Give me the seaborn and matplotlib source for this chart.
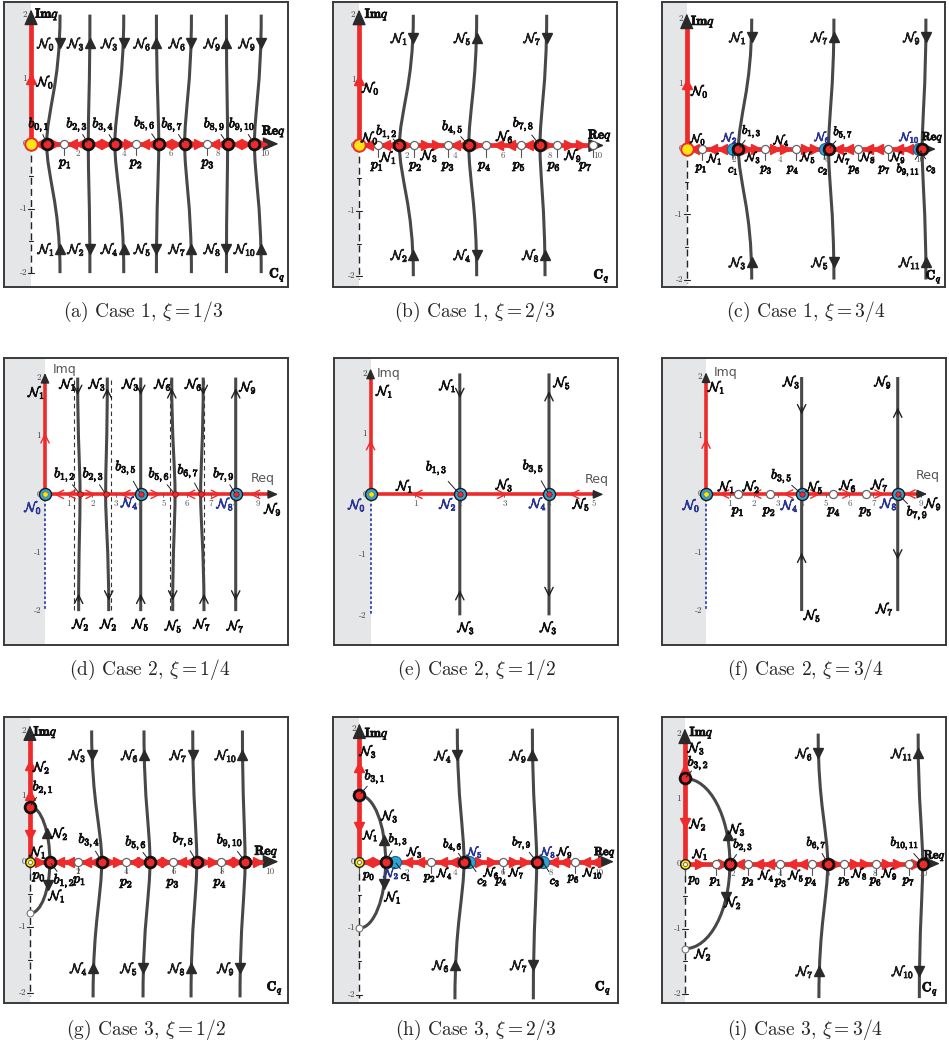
import seaborn as sns
import matplotlib.pyplot as plt
import matplotlib.patheffects as pe
from matplotlib.path import Path
from matplotlib.patches import PathPatch

# ---------------- data ----------------
# (a) Case 1, xi = 1/3
A_B = [0.67, 2.45, 3.59, 5.47, 6.58, 8.42, 9.57]
A_P = [1.42, 4.49, 7.53]
A_C = []
A_TOP = [1.24, 2.52, 3.97, 5.37, 6.87, 8.37, 9.86]
A_BOT = [1.24, 2.52, 3.97, 5.37, 6.87, 8.37, 9.86]
A_IN = [1, 0, 1, 0, 1, 0, 1]
A_NTOP = ['0', '3', '3', '6', '6', '9', '9']
A_NBOT = ['1', '2', '4', '5', '7', '8', '10']
A_FLOW = "< > << <> >> << <> >> << <> >"
A_IMF = [(1.0, '^')]

# (b) Case 1, xi = 2/3
B_B = [1.69, 4.59, 7.57]
B_P = [0.77, 2.31, 3.74, 5.31, 6.79, 8.27, 9.78]
B_C = []
B_TOP = [2.27, 4.92, 7.85]
B_BOT = [2.27, 4.92, 7.78]
B_IN = [1, 0, 1]
B_NTOP = ['1', '5', '7']
B_NBOT = ['2', '4', '8']
B_FLOW = "< << > >> << > << << > >> -"
B_IMF = [(1.0, '^')]

# (c) Case 1, xi = 3/4
C_B = [2.22, 6.09, 10.11]
C_P = [0.64, 3.36, 4.68, 7.34, 8.63]
C_C = [1.97, 5.94, 9.96]
C_TOP = [2.79, 6.32, 10.27]
C_BOT = [2.79, 6.32, 10.27]
C_IN = [1, 0, 1]
C_NTOP = ['1', '7', '9']
C_NBOT = ['3', '5', '11']
C_FLOW = "< << - >> >> >> - << << << - -"
C_IMF = [(1.0, '^')]

# (d) Case 2, xi = 1/4
D_B = [4.04, 8.05]
D_BS = [1.48, 2.56, 5.49, 6.57]
D_P = []
D_C = []
D_TOP = [1.38, 2.63, 4.04, 5.35, 6.68, 8.05]
D_MID = [1.48, 2.56, 4.04, 5.49, 6.57, 8.05]
D_BOT = [1.42, 2.69, 4.04, 5.39, 6.71, 8.05]
D_IN = [1, 0, 1, 0, 1, 0]
D_ASYM = [1.22, 2.78, 5.28, 6.70]
D_FLOW = "<< > < > < > <"
D_IMF = [(1.0, '^')]

# (e) Case 2, xi = 1/2
E_B = [2.0, 4.0]
E_BS = []
E_P = []
E_C = []
E_TOP = [2.0, 4.0]
E_BOT = [2.0, 4.0]
E_IN = [1, 0]
E_FLOW = "< > <"
E_IMF = [(0.85, '^')]

# (f) Case 2, xi = 3/4
F_B = [4.0, 8.02]
F_BS = []
F_P = [1.33, 2.68, 5.33, 6.68]
F_C = []
F_TOP = [4.0, 8.02]
F_BOT = [4.0, 8.02]
F_IN = [1, 0]
F_FLOW = "< < < > > > <"
F_IMF = [(0.9, '^')]

# (g) Case 3, xi = 1/2
G_B = [0.83, 2.99, 5.0, 6.95, 8.96]
G_P = [2.01, 4.0, 5.97, 7.96]
G_C = []
G_TOP = [2.57, 4.75, 6.78, 8.85]
G_MID = [2.99, 5.0, 6.95, 8.96]
G_BOT = [2.63, 4.71, 6.71, 8.75]
G_IN = [1, 0, 1, 0]
G_NTOP = ['3', '6', '7', '10']
G_NBOT = ['4', '5', '8', '9']
G_ARC = (0.84, 0.83, -0.79)
G_ARCARR = [(0.71, 0.43, '^'), (0.75, -0.36, 'v')]
G_FLOW = "> << << >> <> <> << >> <> >"
G_IMF = [(1.47, '^'), (1.02, '^'), (0.41, 'v')]

# (h) Case 3, xi = 2/3
H_B = [1.1, 4.38, 7.42]
H_P = [2.99, 6.0, 9.02]
H_C = [1.49, 4.6, 7.67]
H_TOP = [4.1, 7.24]
H_MID = [4.38, 7.42]
H_BOT = [4.0, 7.28]
H_IN = [1, 0]
H_NTOP = ['4', '9']
H_NBOT = ['6', '7']
H_ARC = (1.0, 1.1, -1.0)
H_ARCARR = [(1.04, 0.33, '^'), (1.04, -0.33, 'v')]
H_FLOW = "<> - << << - >> >> - << <<"
H_IMF = [(1.43, '^'), (0.52, 'v')]

# (i) Case 3, xi = 3/4
I_B = [1.89, 6.0, 9.99]
I_P = [1.3, 2.63, 3.99, 5.36, 6.69, 8.03, 9.42]
I_C = []
I_TOP = [5.6, 9.8]
I_MID = [6.0, 9.99]
I_BOT = [5.63, 9.85]
I_IN = [1, 0]
I_NTOP = ['6', '11']
I_NBOT = ['7', '10']
I_ARC = (1.31, 1.89, -1.31)
I_ARCARR = [(1.8, 0.44, '^'), (1.72, -0.51, 'v')]
I_FLOW = "> > < << << < > >> >> > -"
I_IMF = [(1.46, '^'), (0.62, 'v')]


# ---------------- text labels ----------------
def N(i):
    return r'$\mathcal{N}_{%s}$' % i


def bl(s):
    return r'$b_{%s}$' % s


def pl(s):
    return r'$p_{%s}$' % s


def cl(s):
    return r'$c_{%s}$' % s


IMQ = r'$\mathbf{Im}q$'
REQ = r'$\mathbf{Re}q$'
CQ = r'$\mathbf{C}_q$'


def L(tex, x, y, col='k', tgt=None):
    return (tex, x, y, col, tgt)


A_LAB = [L(N(0), 0.62, 0.97), L(bl('0,1'), 0.34, 0.29, tgt=(0.67, 0)),
         L(bl('2,3'), 1.97, 0.29, tgt=(2.45, 0)), L(bl('3,4'), 3.09, 0.29, tgt=(3.59, 0)),
         L(bl('5,6'), 4.87, 0.31, tgt=(5.47, 0)), L(bl('6,7'), 6.05, 0.29, tgt=(6.58, 0)),
         L(bl('8,9'), 7.86, 0.29, tgt=(8.42, 0)), L(bl('9,10'), 9.04, 0.29, tgt=(9.57, 0)),
         L(pl(1), 1.48, -0.31), L(pl(2), 4.52, -0.31), L(pl(3), 7.59, -0.31),
         L(IMQ, 0.69, 2.0), L(REQ, 10.4, 0.19), L(CQ, 10.55, -2.03)]

B_LAB = [L(N(0), 0.5, 0.89), L(N(0), 0.46, 0.13), L(bl('1,2'), 1.16, 0.2, tgt=(1.69, 0)),
         L(N(1), 1.23, -0.17), L(N(3), 2.95, -0.14), L(bl('4,5'), 3.92, 0.27, tgt=(4.59, 0)),
         L(N(6), 6.11, 0.15), L(bl('7,8'), 6.88, 0.32, tgt=(7.57, 0)), L(N(9), 8.97, -0.14),
         L(pl(1), 0.77, -0.32), L(pl(2), 2.38, -0.32), L(pl(3), 3.74, -0.32), L(pl(4), 5.27, -0.32),
         L(pl(5), 6.71, -0.32), L(pl(6), 8.17, -0.32), L(pl(7), 9.5, -0.32),
         L(IMQ, 0.74, 2.0), L(REQ, 10.08, 0.15), L(CQ, 10.15, -2.0)]

C_LAB = [L(N(0), 0.57, 0.9), L(N(0), 0.5, 0.16), L(N(2), 1.86, 0.18, 'b'),
         L(bl('1,3'), 2.79, 0.27, tgt=(2.22, 0)), L(N(1), 1.21, -0.14), L(cl(1), 2.0, -0.32, tgt=(1.97, 0)),
         L(N(3), 2.86, -0.12), L(pl(1), 0.64, -0.3), L(pl(3), 3.43, -0.32), L(N(4), 4.08, 0.14),
         L(pl(4), 4.58, -0.32), L(N(5), 5.22, -0.12), L(N(6), 5.84, 0.19, 'b'),
         L(bl('5,7'), 6.72, 0.25, tgt=(6.09, 0)), L(cl(2), 5.86, -0.32, tgt=(5.94, 0)),
         L(N(7), 6.72, -0.14), L(pl(6), 7.22, -0.32), L(N(8), 7.79, -0.12), L(pl(7), 8.51, -0.32),
         L(N(9), 9.08, -0.12), L(bl('9,11'), 9.51, -0.32, tgt=(10.11, 0)), L(N(10), 9.58, 0.19, 'b'),
         L(REQ, 10.56, 0.19), L(cl(3), 10.51, -0.3, tgt=(10.0, 0)), L(CQ, 10.61, -1.96),
         L(IMQ, 0.7, 1.95)]

D_LAB = [L(N(1), -0.35, 1.76), L(N(0), -0.49, -0.21, 'b'),
         L(N(1), 0.98, 1.9), L(N(3), 2.22, 1.9), L(N(3), 3.63, 1.9), L(N(6), 4.99, 1.9),
         L(N(6), 6.29, 1.9), L(N(9), 8.58, 1.85),
         L(N(2), 1.52, -2.21), L(N(2), 2.7, -2.21), L(N(5), 4.05, -2.21), L(N(5), 5.44, -2.24),
         L(N(7), 6.65, -2.21), L(N(7), 8.06, -2.24),
         L(bl('1,2'), 0.84, 0.33, tgt=(1.48, 0)), L(bl('2,3'), 2.04, 0.33, tgt=(2.56, 0)),
         L(bl('3,5'), 3.42, 0.45, tgt=(4.04, 0)), L(bl('5,6'), 4.82, 0.33, tgt=(5.49, 0)),
         L(bl('6,7'), 6.05, 0.39, tgt=(6.57, 0)), L(bl('7,9'), 7.55, 0.33, tgt=(8.05, 0)),
         L(N(4), 3.59, -0.13, 'b'), L(N(8), 7.62, -0.15, 'b'), L(N(9), 9.63, -0.24),
         L('Imq', 0.84, 2.14, 'g'), L('Req', 9.21, 0.27, 'g')]

E_LAB = [L(N(1), 0.32, 1.72), L(N(0), -0.3, -0.16, 'b'),
         L(N(1), 1.74, 1.81), L(N(5), 4.3, 1.86), L(N(3), 2.15, -2.19), L(N(3), 4.0, -2.19),
         L(bl('1,3'), 1.48, 0.43, tgt=(2.0, 0)), L(bl('3,5'), 3.65, 0.45, tgt=(4.0, 0)),
         L(N(1), 0.77, 0.15), L(N(2), 1.74, -0.15, 'b'), L(N(3), 3.01, 0.17),
         L(N(4), 3.76, -0.14, 'b'), L(N(5), 4.73, -0.15),
         L('Imq', 0.41, 2.0, 'g'), L('Req', 5.07, 0.24, 'g')]

F_LAB = [L(N(1), 0.45, 1.84), L(N(0), -0.6, -0.18, 'b'),
         L(N(3), 3.59, 1.93), L(N(9), 7.42, 1.93), L(N(5), 4.46, -2.06), L(N(7), 7.49, -1.95),
         L(N(1), 0.87, 0.14), L(N(2), 1.91, 0.14), L(bl('3,5'), 3.17, 0.3, tgt=(4.0, 0)),
         L(N(4), 3.51, -0.18, 'b'), L(N(5), 4.56, 0.13), L(N(6), 5.95, 0.16), L(N(7), 7.28, 0.17),
         L(N(8), 7.66, -0.15, 'b'), L(bl('7,9'), 8.84, -0.33, tgt=(8.02, 0)), L(N(9), 9.51, -0.15),
         L(pl(1), 1.35, -0.3), L(pl(2), 2.66, -0.3), L(pl(4), 5.37, -0.3), L(pl(5), 6.7, -0.3),
         L('Imq', 0.8, 2.07, 'g'), L('Req', 9.28, 0.31, 'g')]

G_LAB = [L(IMQ, 0.65, 1.97), L(N(2), 0.49, 1.45), L(bl('2,1'), 0.55, 1.12, tgt=(0, 0.84)),
         L(N(1), 0.35, 0.16), L(N(2), 1.25, 0.44), L(N(1), 1.14, -0.51),
         L(pl(0), 0.39, -0.23), L(bl('1,2'), 1.43, -0.3, tgt=(0.83, 0)), L(pl(1), 2.08, -0.29),
         L(bl('3,4'), 2.47, 0.32, tgt=(2.99, 0)), L(bl('5,6'), 4.42, 0.28, tgt=(5.0, 0)),
         L(bl('7,8'), 6.39, 0.33, tgt=(6.95, 0)), L(bl('9,10'), 8.33, 0.31, tgt=(8.96, 0)),
         L(pl(2), 4.03, -0.33), L(pl(3), 5.97, -0.33), L(pl(4), 7.93, -0.33),
         L(REQ, 9.85, 0.15), L(CQ, 10.2, -1.93)]

H_LAB = [L(IMQ, 0.73, 1.92), L(N(3), 0.38, 1.67), L(bl('3,1'), 0.66, 1.27, tgt=(0, 1.0)),
         L(N(3), 1.28, 0.7), L(N(1), 0.48, 0.4), L(bl('1,3'), 1.63, 0.33, tgt=(1.1, 0)),
         L(N(3), 2.33, 0.15), L(N(2), 1.35, -0.17, 'b'), L(cl(1), 1.95, -0.22, tgt=(1.49, 0)),
         L(N(1), 1.42, -0.52), L(pl(0), 0.42, -0.22), L(pl(2), 2.96, -0.25), L(N(4), 3.58, -0.17),
         L(bl('4,6'), 3.91, 0.25, tgt=(4.38, 0)), L(N(5), 4.84, 0.15, 'b'), L(N(6), 5.54, -0.16),
         L(cl(2), 5.16, -0.3, tgt=(4.6, 0)), L(pl(4), 5.96, -0.3), L(N(7), 6.59, -0.16),
         L(bl('7,9'), 6.8, 0.28, tgt=(7.42, 0)), L(N(8), 7.91, 0.15, 'b'),
         L(cl(3), 8.19, -0.3, tgt=(7.67, 0)), L(N(9), 8.61, 0.15), L(pl(6), 8.98, -0.26),
         L(N(10), 9.78, -0.16), L(REQ, 10.28, 0.15), L(CQ, 10.2, -1.9)]

I_LAB = [L(IMQ, 0.7, 2.01), L(N(3), 0.49, 1.79), L(bl('3,2'), 0.56, 1.54, tgt=(0, 1.31)),
         L(N(2), 0.56, 0.62), L(N(3), 2.2, 0.54), L(bl('2,3'), 2.45, 0.28, tgt=(1.89, 0)),
         L(N(1), 0.66, 0.15), L(pl(0), 0.42, -0.26), L(pl(1), 1.31, -0.28), L(pl(2), 2.68, -0.28),
         L(N(4), 3.43, -0.18), L(pl(3), 4.05, -0.3), L(N(5), 4.69, -0.18), L(pl(4), 5.32, -0.28),
         L(bl('6,7'), 5.53, 0.31, tgt=(6.0, 0)), L(pl(5), 6.72, -0.28), L(N(8), 7.35, -0.15),
         L(pl(6), 8.03, -0.28), L(N(9), 8.61, -0.15), L(pl(7), 9.42, -0.28),
         L(bl('10,11'), 9.24, 0.31, tgt=(9.99, 0)), L(REQ, 10.5, 0.13), L(CQ, 10.3, -1.93),
         L(N(2), 0.77, -1.38), L(N(2), 2.03, -0.59)]

# ---------------- panel layout ----------------
W, H = 949, 1045
PANELS = [
    dict(row=1, box=(4, 1.7, 288.3, 286.7), xlim=(-1.16, 11.02), ylim=(-2.21, 2.20), xend=10.6,
         B=A_B, P=A_P, C=A_C, TOP=A_TOP, MID=A_B, BOT=A_BOT, IN=A_IN, NT=A_NTOP, NB=A_NBOT,
         FLOW=A_FLOW, IMF=A_IMF, LAB=A_LAB, yarr=(1.56, -1.62), ticks=[2, 4, 6, 8, 10], fs=1.0,
         cap=(r'(a) Case 1, $\xi = 1/3$', 143, 312)),
    dict(row=1, box=(333.3, 1.7, 616.7, 287.3), xlim=(-1.08, 10.78), ylim=(-2.17, 2.20), xend=10.25,
         B=B_B, P=B_P, C=B_C, TOP=B_TOP, MID=B_B, BOT=B_BOT, IN=B_IN, NT=B_NTOP, NB=B_NBOT,
         FLOW=B_FLOW, IMF=B_IMF, LAB=B_LAB, yarr=(1.65, -1.67), ticks=[2, 4, 6, 8, 10], fs=1.0,
         cap=(r'(b) Case 1, $\xi = 2/3$', 475, 312)),
    dict(row=1, box=(662.3, 1.7, 945, 286.7), xlim=(-1.05, 11.09), ylim=(-2.11, 2.26), xend=10.7,
         B=C_B, P=C_P, C=C_C, TOP=C_TOP, MID=C_B, BOT=C_BOT, IN=C_IN, NT=C_NTOP, NB=C_NBOT,
         FLOW=C_FLOW, IMF=C_IMF, LAB=C_LAB, yarr=(1.72, -1.73), ticks=[2, 4, 6, 8, 10], fs=0.9,
         cap=(r'(c) Case 1, $\xi = 3/4$', 806, 312)),
    dict(row=2, box=(4, 358.3, 288.3, 645), xlim=(-1.73, 10.27), ylim=(-2.58, 2.33), xend=9.84,
         B=D_B, BS=D_BS, P=D_P, C=D_C, TOP=D_TOP, MID=D_MID, BOT=D_BOT, IN=D_IN, ASYM=D_ASYM,
         FLOW=D_FLOW, IMF=D_IMF, LAB=D_LAB, yarr=(1.76, -1.76), ticks=list(range(1, 10)), fs=1.0,
         cap=(r'(d) Case 2, $\xi = 1/4$', 150, 670)),
    dict(row=2, box=(334, 358.3, 617.7, 645), xlim=(-0.82, 5.54), ylim=(-2.49, 2.25), xend=5.22,
         B=E_B, BS=E_BS, P=E_P, C=E_C, TOP=E_TOP, MID=E_B, BOT=E_BOT, IN=E_IN, ASYM=[],
         FLOW=E_FLOW, IMF=E_IMF, LAB=E_LAB, yarr=(1.65, -1.64), ticks=[1, 2, 3, 4, 5], fs=1.0,
         cap=(r'(e) Case 2, $\xi = 1/2$', 476, 670)),
    dict(row=2, box=(662.3, 358.3, 946, 645), xlim=(-1.83, 10.04), ylim=(-2.58, 2.32), xend=9.25,
         B=F_B, BS=F_BS, P=F_P, C=F_C, TOP=F_TOP, MID=F_B, BOT=F_BOT, IN=F_IN, ASYM=[],
         FLOW=F_FLOW, IMF=F_IMF, LAB=F_LAB, yarr=(1.42, -1.06), ticks=list(range(1, 10)), fs=1.0,
         cap=(r'(f) Case 2, $\xi = 3/4$', 805, 670)),
    dict(row=3, box=(4, 716.7, 288.3, 1003.3), xlim=(-1.08, 10.76), ylim=(-2.16, 2.21), xend=10.35,
         B=G_B, P=G_P, C=G_C, TOP=G_TOP, MID=G_MID, BOT=G_BOT, IN=G_IN, NT=G_NTOP, NB=G_NBOT,
         ARC=G_ARC, ARCARR=G_ARCARR, FLOW=G_FLOW, IMF=G_IMF, LAB=G_LAB, yarr=(1.63, -1.62),
         ticks=[2, 4, 6, 8, 10], fs=1.0, cap=(r'(g) Case 3, $\xi = 1/2$', 146, 1030)),
    dict(row=3, box=(333.3, 716.7, 617.7, 1003.3), xlim=(-1.09, 10.81), ylim=(-2.13, 2.18), xend=10.65,
         B=H_B, P=H_P, C=H_C, TOP=H_TOP, MID=H_MID, BOT=H_BOT, IN=H_IN, NT=H_NTOP, NB=H_NBOT,
         ARC=H_ARC, ARCARR=H_ARCARR, FLOW=H_FLOW, IMF=H_IMF, LAB=H_LAB, yarr=(1.6, -1.55),
         ticks=[2, 4, 6, 8, 10], fs=0.9, cap=(r'(h) Case 3, $\xi = 2/3$', 476, 1030)),
    dict(row=3, box=(662.3, 716.7, 946, 1003.3), xlim=(-0.95, 10.97), ylim=(-2.15, 2.26), xend=10.71,
         B=I_B, P=I_P, C=I_C, TOP=I_TOP, MID=I_MID, BOT=I_BOT, IN=I_IN, NT=I_NTOP, NB=I_NBOT,
         ARC=I_ARC, ARCARR=I_ARCARR, FLOW=I_FLOW, IMF=I_IMF, LAB=I_LAB, yarr=(1.7, -1.65),
         ticks=[2, 4, 6, 8, 10], fs=0.92, cap=(r'(i) Case 3, $\xi = 3/4$', 805, 1030)),
]

RED = '#ee2a2a'
DARK = '#3a3a3a'
CURVE = '#484848'
BLUE = '#2a3594'
CYAN = '#2fa3d6'
YELLOW = '#ffe414'
BG = '#e5e6e8'
LABCOL = {'k': '#111111', 'b': BLUE, 'g': '#555555'}

sns.set_theme(style='white')
plt.rcParams['font.family'] = ['DejaVu Serif']
plt.rcParams['mathtext.fontset'] = 'cm'


def bold(col):
    return [pe.withStroke(linewidth=0.6, foreground=col)]


def dots(ax, xs, ys, **kw):
    if len(xs):
        sns.scatterplot(x=list(xs), y=list(ys), ax=ax, legend=False, **kw)


def thin_arrow(ax, x, y, d, color, lx, ly):
    dx = {'>': lx, '<': -lx}.get(d, 0)
    dy = {'^': ly, 'v': -ly}.get(d, 0)
    ax.annotate('', xy=(x + dx / 2, y + dy / 2), xytext=(x - dx / 2, y - dy / 2),
                arrowprops=dict(arrowstyle='->,head_length=0.5,head_width=0.25', color=color,
                                lw=1.0, shrinkA=0, shrinkB=0), zorder=5)


def curve_path(xt, xm, xb, yt, yb):
    verts = [(xt, yt), (xt, 0.45 * yt), (xm, 0.25 * yt), (xm, 0),
             (xm, 0.25 * yb), (xb, 0.45 * yb), (xb, yb)]
    return Path(verts, [Path.MOVETO] + [Path.CURVE4] * 6)


def arc_path(ya, xm, yb):
    k = 0.5523
    verts = [(0, ya), (k * xm, ya), (xm, k * ya), (xm, 0),
             (xm, k * yb), (k * xm, yb), (0, yb)]
    return Path(verts, [Path.MOVETO] + [Path.CURVE4] * 6)


def draw_panel(ax, cfg):
    row = cfg['row']
    sc = cfg['fs']
    x0, x1 = cfg['xlim']
    y0, y1 = cfg['ylim']
    xr = (x1 - x0) / 12.0
    ax.set_xticks([])
    ax.set_yticks([])
    for s in ax.spines.values():
        s.set_visible(True)
        s.set_color(DARK)
        s.set_linewidth(1.4)
    ax.axvspan(x0, 0, color=BG, lw=0, zorder=0)

    # vertical trajectories
    ytop, ybot = (2.0, -2.0) if row < 3 else (2.0, -2.07)
    lw_c = 2.2
    for xt, xm, xb in zip(cfg['TOP'], cfg['MID'], cfg['BOT']):
        ax.add_patch(PathPatch(curve_path(xt, xm, xb, ytop, ybot), fc='none', ec=CURVE,
                               lw=lw_c, zorder=2))
    for xa in cfg.get('ASYM', []):
        ax.plot([xa, xa], [1.95, -2.0], color='#333333', lw=0.8, ls=(0, (4, 3)), zorder=1)
    if 'ARC' in cfg:
        ya, xm, yb = cfg['ARC']
        ax.add_patch(PathPatch(arc_path(ya, xm, yb), fc='none', ec=CURVE, lw=lw_c, zorder=2))
        for ax_x, ax_y, m in cfg['ARCARR']:
            ax.plot(ax_x, ax_y, marker=m, ms=7, color='#2a2a2a', zorder=3)

    # arrows and names on the trajectories
    yt_a, yb_a = cfg['yarr']
    for i, (xt, xb, inward) in enumerate(zip(cfg['TOP'], cfg['BOT'], cfg['IN'])):
        mt, mb = ('v', '^') if inward else ('^', 'v')
        if row == 2:
            thin_arrow(ax, xt, yt_a, mt, '#222222', 0, 0.12)
            thin_arrow(ax, xb, yb_a, mb, '#222222', 0, 0.12)
        else:
            ax.plot(xt, yt_a, marker=mt, ms=7.5, color='#2a2a2a', zorder=3)
            ax.plot(xb, yb_a, marker=mb, ms=7.5, color='#2a2a2a', zorder=3)
            ax.text(xt - 0.2, yt_a, N(cfg['NT'][i]), ha='right', va='center', fontsize=9.5,
                    zorder=8, path_effects=bold('#111111'))
            ax.text(xb - 0.2, yb_a, N(cfg['NB'][i]), ha='right', va='center', fontsize=9.5,
                    zorder=8, path_effects=bold('#111111'))

    # imaginary axis
    lw_ax = 3.4 if row != 2 else 2.6
    ax.plot([0, 0], [0, 1.93], color=RED, lw=lw_ax, solid_capstyle='butt', zorder=3)
    head = '-|>,head_length=0.8,head_width=0.35' if row != 2 else '-|>,head_length=0.5,head_width=0.22'
    ax.annotate('', xy=(0, 2.08), xytext=(0, 1.9),
                arrowprops=dict(arrowstyle=head, color='#2a2a2a', lw=1.0, shrinkA=0, shrinkB=0), zorder=4)
    if row == 2:
        ax.plot([0, 0], [0, -2.0], color='#3344aa', lw=1.3, ls=(0, (1.5, 1.2)), zorder=3)
    else:
        ax.plot([0, 0], [0, -2.05], color='#222222', lw=1.0, ls=(0, (5, 3)), zorder=3)
        for yy in [-0.5, -1.0, -1.5, -2.0]:
            w = 0.12 if yy in (-1.0, -2.0) else 0.07
            ax.plot([-w, w], [yy, yy], color='#222222', lw=0.8, zorder=3)
    for yy in [2, 1, 0, -1, -2]:
        ax.text(-0.16 * xr, yy, str(yy), ha='right', va='center', fontsize=6.5,
                family='cmr10', color='#444444', zorder=4)
    for yy, m in cfg['IMF']:
        if row == 2:
            thin_arrow(ax, 0, yy, m, RED, 0, 0.1)
        else:
            ax.plot(0, yy, marker=m, ms=7, color=RED, zorder=4)

    # real axis
    xend = cfg['xend']
    ax.plot([0, xend - 0.35 * xr], [0, 0], color=RED, lw=lw_ax, solid_capstyle='butt', zorder=3)
    ax.annotate('', xy=(xend, 0), xytext=(xend - 0.45 * xr, 0),
                arrowprops=dict(arrowstyle=head, color='#2a2a2a', lw=1.0, shrinkA=0, shrinkB=0), zorder=4)
    for t in cfg['ticks']:
        ax.text(t, -0.16, str(t), ha='center', va='center', fontsize=6.5, family='cmr10',
                color='#555555', zorder=4)
        if row == 2:
            ax.plot([t, t], [0.0, -0.05], color='#555555', lw=0.6, zorder=3)
    stops = sorted([0.0] + cfg['B'] + cfg.get('BS', []) + cfg['P'] + cfg['C'] + [xend - 0.35 * xr])
    for (s0, s1), tok in zip(zip(stops[:-1], stops[1:]), cfg['FLOW'].split()):
        if tok == '-':
            continue
        for k, ch in enumerate(tok):
            xx = s0 + (s1 - s0) * (k + 1) / (len(tok) + 1)
            if row == 2:
                thin_arrow(ax, xx, 0, ch, RED, 0.25 * xr, 0)
            else:
                ax.plot(xx, 0, marker=ch, ms=7, color=RED, zorder=4)

    # points on the axes
    if row != 2:
        for xp in cfg['P']:
            ax.plot([xp, xp], [-0.05, -0.17], color='#555555', lw=0.8, zorder=3)
    dots(ax, cfg['P'], [0] * len(cfg['P']), s=34, color='white', edgecolor='#666666', linewidth=0.9, zorder=6)
    dots(ax, cfg['C'], [0] * len(cfg['C']), s=75, color=CYAN, edgecolor='#1d5f8a', linewidth=0.8, zorder=6)
    if row == 2:
        dots(ax, cfg['BS'], [0] * len(cfg['BS']), s=16, color=RED, edgecolor='#7a1010', linewidth=0.5, zorder=6)
        dots(ax, cfg['B'], [0] * len(cfg['B']), s=75, color=CYAN, edgecolor='#1b1b1b', linewidth=1.0, zorder=6)
        dots(ax, cfg['B'], [0] * len(cfg['B']), s=15, color=RED, edgecolor='#600000', linewidth=0.4, zorder=7)
        dots(ax, [0], [0], s=75, color=CYAN, edgecolor='#1b1b1b', linewidth=1.0, zorder=6)
        dots(ax, [0], [0], s=15, color=YELLOW, edgecolor='#806000', linewidth=0.4, zorder=7)
    else:
        dots(ax, cfg['B'], [0] * len(cfg['B']), s=60, color=RED, edgecolor='#111111', linewidth=2.0, zorder=7)
        if row == 1:
            dots(ax, [0], [0], s=80, color=YELLOW, edgecolor=RED, linewidth=1.4, zorder=7)
        else:
            ya, xm, yb = cfg['ARC']
            ax.plot([0, 0], [-0.05, -0.17], color='#555555', lw=0.8, zorder=3)
            dots(ax, [0], [ya], s=60, color=RED, edgecolor='#111111', linewidth=2.0, zorder=7)
            dots(ax, [0], [yb], s=24, color='white', edgecolor='#777777', linewidth=0.8, zorder=7)
            dots(ax, [0], [0], s=48, color=YELLOW, edgecolor='#222222', linewidth=1.0, zorder=7)
            dots(ax, [0], [0], s=8, color='white', edgecolor='#444444', linewidth=0.5, zorder=8)

    # text labels
    for tex, x, y, col, tgt in cfg['LAB']:
        if col == 'g':
            ax.text(x, y, tex, ha='center', va='center', fontsize=9, family='DejaVu Sans',
                    color=LABCOL[col], zorder=9)
        else:
            fs = 10 if tex.startswith('$b') or tex.startswith('$p') else 9.5
            if abs(y) < 0.45:
                fs *= sc
            ax.text(x, y, tex, ha='center', va='center', fontsize=fs, color=LABCOL[col], zorder=9,
                    path_effects=bold(LABCOL[col]))
        if tgt is not None:
            tx, ty = tgt
            ax.plot([x + 0.5 * (tx - x), x + 0.9 * (tx - x)], [y + 0.5 * (ty - y), y + 0.9 * (ty - y)],
                    color='#222222', lw=0.7, zorder=8)

    ax.set_xlim(x0, x1)
    ax.set_ylim(y0, y1)


fig = plt.figure(figsize=(W / 100, H / 100), dpi=100)
for cfg in PANELS:
    bx0, by0, bx1, by1 = cfg['box']
    ax = fig.add_axes([bx0 / W, 1 - by1 / H, (bx1 - bx0) / W, (by1 - by0) / H])
    draw_panel(ax, cfg)
    txt, cx, cy = cfg['cap']
    fig.text(cx / W, 1 - cy / H, txt, ha='center', va='center', fontsize=14, family='cmr10')

fig.savefig('out.png', dpi=100)
